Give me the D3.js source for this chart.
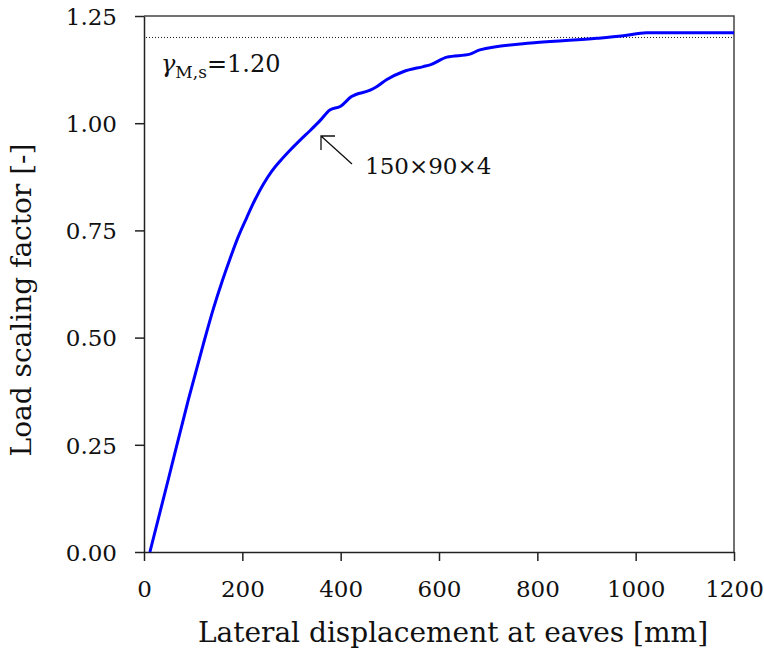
<!DOCTYPE html>
<html>
<head>
<meta charset="utf-8">
<script src="https://cdn.jsdelivr.net/npm/d3@7"></script>
<style>
  body { margin: 0; background: #fff; }
  svg { display: block; font-family: "DejaVu Serif", serif; }
</style>
</head>
<body>
<div id="chart"></div>
<script>
// lateral displacement at eaves [mm] vs load scaling factor, 150x90x4 section
const displacement = [12, 50, 90, 120, 141, 160, 175, 192, 209, 226, 243, 260, 277, 297, 317, 338, 358, 378, 399, 422, 460, 473, 494, 527, 568, 582, 616, 663, 683, 799, 921, 975, 1022, 1200];
const loadFactor = [0, 0.172, 0.354, 0.482, 0.567, 0.635, 0.684, 0.736, 0.780, 0.822, 0.858, 0.888, 0.912, 0.937, 0.960, 0.983, 1.006, 1.031, 1.039, 1.062, 1.077, 1.085, 1.102, 1.120, 1.132, 1.136, 1.154, 1.161, 1.171, 1.188, 1.198, 1.204, 1.211, 1.211];

const xTicks = [0, 200, 400, 600, 800, 1000, 1200];
const yTicks = [0, 0.25, 0.5, 0.75, 1.0, 1.25];
const gammaMs = 1.2;

const width = 764;
const height = 648;
const margin = { top: 16, right: 30, bottom: 96, left: 144 };

const svg = d3
  .select("#chart")
  .append("svg")
  .attr("width", width)
  .attr("height", height);

const x = d3.scaleLinear().domain([0, 1200]).range([margin.left, width - margin.right]);
const y = d3.scaleLinear().domain([0, 1.25]).range([height - margin.bottom, margin.top]);

// frame: top and right
svg
  .append("path")
  .attr("d", `M${x(0)},${y(1.25)}H${x(1200)}V${y(0)}`)
  .attr("fill", "none")
  .attr("stroke", "#444")
  .attr("stroke-width", 1.5);

// x axis
const gx = svg
  .append("g")
  .attr("transform", `translate(0,${y(0)})`)
  .call(
    d3.axisBottom(x).tickValues(xTicks).tickFormat(d3.format("d")).tickSize(9).tickPadding(20).tickSizeOuter(0)
  );

// y axis
const gy = svg
  .append("g")
  .attr("transform", `translate(${x(0)},0)`)
  .call(
    d3.axisLeft(y).tickValues(yTicks).tickFormat(d3.format(".2f")).tickSize(9).tickPadding(18).tickSizeOuter(0)
  );

[gx, gy].forEach((g) => {
  g.select(".domain").attr("stroke", "#222").attr("stroke-width", 1.5);
  g.selectAll(".tick line").attr("stroke", "#222").attr("stroke-width", 1.5);
  g.selectAll(".tick text")
    .attr("fill", "#111")
    .style("font-family", "DejaVu Serif")
    .style("font-size", "23px");
});
gx.selectAll(".tick text").attr("dy", "0.71em");
gy.selectAll(".tick text").attr("dy", "0.36em");

// dotted reference line at gamma_M,s
svg
  .append("line")
  .attr("x1", x(0) + 2)
  .attr("x2", x(1200))
  .attr("y1", y(gammaMs))
  .attr("y2", y(gammaMs))
  .attr("stroke", "#111")
  .attr("stroke-width", 1)
  .attr("stroke-dasharray", "1,2");

const gLabel = svg
  .append("text")
  .attr("x", 161)
  .attr("y", 72)
  .attr("fill", "#111")
  .style("font-size", "24px");
gLabel.append("tspan").attr("font-style", "italic").text("γ");
gLabel.append("tspan").attr("dy", 6).style("font-size", "17px").text("M,s");
gLabel.append("tspan").attr("dy", -6).text("=1.20");

// curve
const line = d3
  .line()
  .x((d, i) => x(displacement[i]))
  .y((d) => y(d))
  .curve(d3.curveMonotoneX);

svg
  .append("path")
  .datum(loadFactor)
  .attr("d", line)
  .attr("fill", "none")
  .attr("stroke", "#0000ff")
  .attr("stroke-width", 3)
  .attr("stroke-linejoin", "round");

// annotation arrow
const tip = [321, 136];
svg
  .append("path")
  .attr("d", `M352,164L${tip[0]},${tip[1]}M${tip[0]},${tip[1] + 14}V${tip[1]}H${tip[0] + 14}`)
  .attr("fill", "none")
  .attr("stroke", "#111")
  .attr("stroke-width", 1.3);

svg
  .append("text")
  .attr("x", 365)
  .attr("y", 174)
  .attr("fill", "#111")
  .style("font-size", "23px")
  .text("150×90×4");

// axis titles
svg
  .append("text")
  .attr("x", 453)
  .attr("y", 642)
  .attr("text-anchor", "middle")
  .attr("fill", "#111")
  .style("font-size", "28px")
  .text("Lateral displacement at eaves [mm]");

svg
  .append("text")
  .attr("transform", `translate(31,300) rotate(-90)`)
  .attr("text-anchor", "middle")
  .attr("fill", "#111")
  .style("font-size", "28px")
  .text("Load scaling factor [-]");
</script>
</body>
</html>
